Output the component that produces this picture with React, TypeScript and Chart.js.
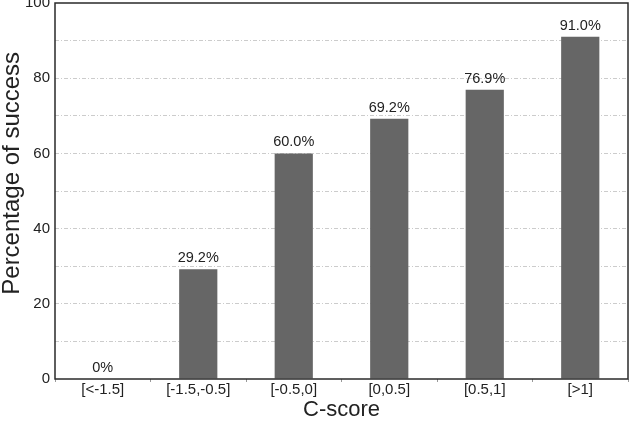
import React, { useEffect, useRef } from "react";
import { Chart, registerables } from "chart.js";

Chart.register(...registerables);

const categories = ["[<-1.5]", "[-1.5,-0.5]", "[-0.5,0]", "[0,0.5]", "[0.5,1]", "[>1]"];
const successPct = [0, 29.2, 60.0, 69.2, 76.9, 91.0];
const valueLabels = ["0%", "29.2%", "60.0%", "69.2%", "76.9%", "91.0%"];
const yTitle = "Percentage of success";

const FONT = "'Liberation Sans', Arial, Helvetica, sans-serif";

const boxPlugin = {
  id: "boxPlugin",
  afterDraw(chart: any) {
    const { ctx, chartArea } = chart;
    ctx.save();
    ctx.strokeStyle = "#2a2a2a";
    ctx.lineWidth = 1.5;
    ctx.strokeRect(chartArea.left, chartArea.top, chartArea.right - chartArea.left, chartArea.bottom - chartArea.top);
    // y-axis title
    const midY = chartArea.top + (chartArea.bottom - chartArea.top) * 0.453;
    ctx.translate(12, midY);
    ctx.rotate(-Math.PI / 2);
    ctx.fillStyle = "#222";
    ctx.font = `24px ${FONT}`;
    ctx.textAlign = "center";
    ctx.textBaseline = "middle";
    ctx.fillText(yTitle, 0, 0);
    ctx.restore();
  },
};

const labelPlugin = {
  id: "labelPlugin",
  afterDatasetsDraw(chart: any) {
    const { ctx } = chart;
    const meta = chart.getDatasetMeta(0);
    ctx.save();
    ctx.fillStyle = "#222";
    ctx.font = `14.5px ${FONT}`;
    ctx.textAlign = "center";
    ctx.textBaseline = "bottom";
    meta.data.forEach((bar: any, i: number) => {
      ctx.fillText(valueLabels[i], bar.x, bar.y - 4);
    });
    ctx.restore();
  },
};

export default function App() {
  const ref = useRef<HTMLCanvasElement>(null);
  useEffect(() => {
    if (!ref.current) return;
    const chart = new Chart(ref.current, {
      type: "bar",
      data: {
        labels: categories,
        datasets: [
          {
            data: successPct,
            backgroundColor: "#666666",
            borderWidth: 0,
            barPercentage: 0.4,
            categoryPercentage: 1,
          },
        ],
      },
      options: {
        animation: false,
        responsive: false,
        maintainAspectRatio: false,
        layout: { padding: { top: 3, right: 2, left: 0, bottom: 0 } },
        plugins: { legend: { display: false }, tooltip: { enabled: false } },
        scales: {
          x: {
            grid: {
              offset: true,
              drawOnChartArea: false,
              tickLength: 3,
              color: "#999",
            },
            border: { display: false },
            ticks: { color: "#222", font: { family: FONT, size: 15 }, padding: -1, maxRotation: 0 },
            title: {
              display: true,
              text: "C-score",
              color: "#222",
              font: { family: FONT, size: 22 },
              padding: { top: 2, bottom: 4 },
            },
            afterFit(scale: any) {
              scale.height = 48;
            },
          },
          y: {
            min: 0,
            max: 100,
            border: { display: false, dash: [4, 2, 1, 2] },
            grid: {
              color: (c: any) => (c.tick && c.tick.value > 0 && c.tick.value < 100 ? "#cccccc" : "rgba(0,0,0,0)"),
              drawTicks: false,
              lineWidth: 1,
            },
            ticks: {
              stepSize: 10,
              color: "#222",
              font: { family: FONT, size: 15 },
              padding: 5,
              callback: (v: any) => (Number(v) % 20 === 0 ? String(v) : ""),
            },
            title: { display: false },
            afterFit(scale: any) {
              scale.width = 55;
              scale.paddingTop = 0;
              scale.paddingBottom = 0;
            },
          },
        },
      },
      plugins: [boxPlugin, labelPlugin],
    });
    return () => chart.destroy();
  }, []);
  return (
    <div style={{ position: "fixed", left: 0, top: 0, width: 630, height: 427, background: "#fff" }}>
      <canvas ref={ref} width={630} height={427} style={{ display: "block" }} />
    </div>
  );
}
